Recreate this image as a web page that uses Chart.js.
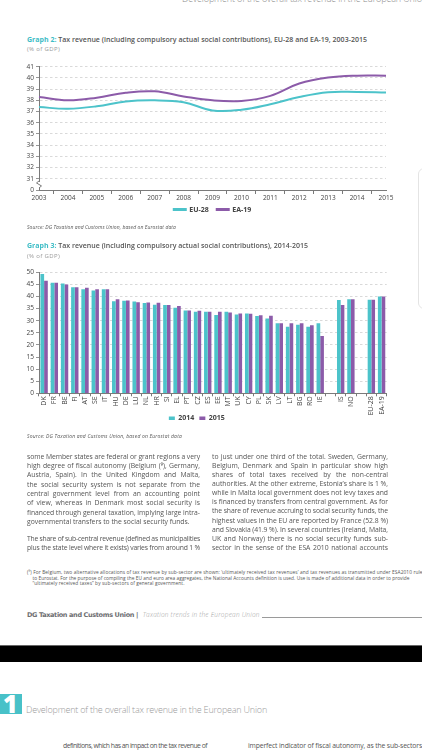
<!DOCTYPE html>
<html><head><meta charset="utf-8">
<script src="https://cdn.jsdelivr.net/npm/chart.js@4"></script>
<style>
html,body{margin:0;padding:0;background:#fff;width:422px;height:750px;overflow:hidden;position:relative;font-family:"Open Sans",sans-serif;}
.a{position:absolute;white-space:nowrap;}
.t{color:#555;font-size:7px;line-height:8px;font-weight:600;}
.t b{color:#3dbdc6;font-weight:700;}
.sub{color:#9a9a9a;font-size:6px;line-height:7px;}
.src{color:#555;font-size:5px;line-height:6px;font-style:italic;}
.bt{color:#555;font-size:6.8px;line-height:9px;}
.fn{color:#555;font-size:4.8px;line-height:6px;}
canvas{position:absolute;}
</style></head><body>
<div class="a" data-w="245" style="left:182px;top:-7px;font-size:9px;line-height:11px;color:#8a8a8a;font-weight:300;">Development of the overall tax revenue in the European Union</div>

<div class="a t" data-w="340" style="left:27px;top:36px;"><b>Graph 2:</b> Tax revenue (including compulsory actual social contributions), EU-28 and EA-19, 2003-2015</div>
<div class="a sub" data-w="33" style="left:27px;top:46px;">(% of GDP)</div>
<canvas id="c2" width="422" height="173" style="left:0;top:56px;width:422px;height:173px;"></canvas>
<div class="a src" data-w="149" style="left:27px;top:224px;">Source: DG Taxation and Customs Union, based on Eurostat data</div>

<div class="a t" data-w="281" style="left:27px;top:242px;"><b>Graph 3:</b> Tax revenue (including compulsory actual social contributions), 2014-2015</div>
<div class="a sub" data-w="33" style="left:27px;top:253px;">(% of GDP)</div>
<canvas id="c3" width="422" height="177" style="left:0;top:262px;width:422px;height:177px;"></canvas>
<div class="a src" data-w="155" style="left:27px;top:433px;">Source: DG Taxation and Customs Union, based on Eurostat data</div>

<div class="a" style="left:418px;top:168px;width:20px;height:139px;border:1px solid #e4e4e4;border-radius:6px;"></div>

<div id="body"></div>

<div class="a fn" data-w="398" style="left:27px;top:568.7px;">(⁹) For Belgium, two alternative allocations of tax revenue by sub-sector are shown: ‘ultimately received tax revenues’ and tax revenues as transmitted under ESA2010 rules</div>
<div class="a fn" data-w="377" style="left:32.5px;top:574.5px;">to Eurostat. For the purpose of compiling the EU and euro area aggregates, the National Accounts definition is used. Use is made of additional data in order to provide</div>
<div class="a fn" data-w="152" style="left:32.5px;top:580.3px;">“ultimately received taxes” by sub-sectors of general government.</div>

<div class="a" data-w="111" style="left:27px;top:611px;font-size:6.5px;line-height:8px;font-weight:700;color:#6d6e71;font-family:'DejaVu Sans',sans-serif;">DG Taxation and Customs Union |</div>
<div class="a" data-w="117" style="left:142.7px;top:611px;font-size:6.5px;line-height:8px;font-style:italic;color:#a0a0a0;font-weight:300;">Taxation trends in the European Union</div>
<div class="a" style="left:262px;top:617px;width:160px;height:0;border-top:1px solid #9a9a9a;"></div>

<div class="a" style="left:0;top:645px;width:422px;height:16px;background:#000;border-top:1px solid #666;"></div>

<div class="a" style="left:0;top:694px;width:22px;height:19.5px;background:#48c1c8;overflow:hidden;">
  <div style="position:absolute;left:3px;top:-4px;font-size:25px;line-height:26px;font-weight:800;color:#fff;">1</div>
</div>
<div class="a" data-w="241" style="left:26px;top:703.5px;font-size:9px;line-height:12px;color:#9a9a9a;font-weight:300;">Development of the overall tax revenue in the European Union</div>

<div class="a bt" data-w="144" style="left:63px;top:741px;">definitions, which has an impact on the tax revenue of</div>
<div class="a bt" data-w="174" style="left:248px;top:741px;">imperfect indicator of fiscal autonomy, as the sub-sectors</div>

<script>
// ---------- Graph 2 data ----------
const years = ['2003','2004','2005','2006','2007','2008','2009','2010','2011','2012','2013','2014','2015'];
const eu28 = [37.4, 37.25, 37.47, 37.9, 38.0, 37.83, 37.1, 37.16, 37.65, 38.3, 38.73, 38.75, 38.7];
const ea19 = [38.3, 38.0, 38.24, 38.68, 38.8, 38.35, 38.0, 37.95, 38.4, 39.5, 40.03, 40.2, 40.2];
const g2YTicks = [0, 31, 32, 33, 34, 35, 36, 37, 38, 39, 40, 41];

// ---------- Graph 3 data ----------
const countries = ['DK','FR','BE','FI','AT','SE','IT','HU','DE','LU','NL','HR','SI','EL','PT','CZ','ES','EE','MT','UK','CY','PL','SK','LV','LT','BG','RO','IE','','IS','NO','','EU-28','EA-19'];
const v2014 = [49.3,45.7,45.4,43.8,43.0,42.5,43.0,38.0,38.2,37.9,37.3,36.6,36.5,35.4,34.2,33.7,33.7,32.4,33.7,32.6,33.0,31.9,30.9,28.9,27.5,28.3,27.5,28.9,null,38.6,38.9,null,38.7,40.0];
const v2015 = [46.5,45.7,45.0,43.8,43.6,43.0,43.0,38.9,38.3,37.6,37.5,37.4,36.5,36.1,34.2,34.1,33.7,33.7,33.4,33.0,32.9,32.3,32.0,28.9,28.9,28.9,28.1,23.7,null,36.5,38.9,null,38.7,40.0];

// ---------- body text ----------
const leftLines = [
 ['some Member states are federal or grant regions a very',1],
 ['high degree of fiscal autonomy (Belgium (⁹), Germany,',1],
 ['Austria, Spain). In the United Kingdom and Malta,',1],
 ['the social security system is not separate from the',1],
 ['central government level from an accounting point',1],
 ['of view, whereas in Denmark most social security is',1],
 ['financed through general taxation, implying large intra-',1],
 ['governmental transfers to the social security funds.',0]
];
const leftLines2 = [
 ['The share of sub-central revenue (defined as municipalities',1],
 ['plus the state level where it exists) varies from around 1 %',1]
];
const rightLines = [
 'to just under one third of the total. Sweden, Germany,',
 'Belgium, Denmark and Spain in particular show high',
 'shares of total taxes received by the non-central',
 'authorities. At the other extreme, Estonia’s share is 1 %,',
 'while in Malta local government does not levy taxes and',
 'is financed by transfers from central government. As for',
 'the share of revenue accruing to social security funds, the',
 'highest values in the EU are reported by France (52.8 %)',
 'and Slovakia (41.9 %). In several countries (Ireland, Malta,',
 'UK and Norway) there is no social security funds sub-',
 'sector in the sense of the ESA 2010 national accounts'
];
const body = document.getElementById('body');
function addLine(txt, x, yc, w, just){
  const d = document.createElement('div');
  d.className = 'a bt';
  d.textContent = txt;
  d.style.left = x + 'px';
  d.style.top = (yc - 4.5) + 'px';
  body.appendChild(d);
  d.dataset.jw = w;
  d.dataset.just = just ? 1 : 0;
}
leftLines.forEach((l,i)=>addLine(l[0], 27, 456 + i*9.35, 173, l[1]));
leftLines2.forEach((l,i)=>addLine(l[0], 27, 538.5 + i*9, 173, l[1]));
rightLines.forEach((l,i)=>addLine(l, 212, 456 + i*9.15, 176, 1));

// fit widths
document.querySelectorAll('[data-w]').forEach(el=>{
  const target = +el.dataset.w;
  const w = el.getBoundingClientRect().width;
  const n = el.textContent.length;
  el.style.letterSpacing = ((target - w) / n) + 'px';
});
document.querySelectorAll('[data-jw]').forEach(el=>{
  const target = +el.dataset.jw;
  let w = el.getBoundingClientRect().width;
  const n = el.textContent.length;
  if (w > target) { el.style.letterSpacing = ((target - w) / n) + 'px'; w = el.getBoundingClientRect().width; }
  if (el.dataset.just === '1') {
    const sp = (el.textContent.match(/ /g) || []).length;
    if (sp) el.style.wordSpacing = ((target - w) / sp) + 'px';
  }
});

// ---------- charts ----------
const TEAL = '#4cc3ca', PURPLE = '#8c5ba9';
const GRID = '#cfcfcf', AXIS = '#7a7a7a';
const FONT = "'Open Sans', sans-serif";

const breakPlugin = {
  id: 'axisBreak',
  afterDraw(chart){
    const y = chart.scales.y, ctx = chart.ctx;
    const x0 = y.right;
    const yy = y.getPixelForValue(30.45);
    ctx.save();
    ctx.fillStyle = '#fff';
    ctx.fillRect(x0 - 4, yy - 3, 8, 6);
    ctx.strokeStyle = AXIS; ctx.lineWidth = 1;
    ctx.beginPath();
    ctx.moveTo(x0, yy - 4); ctx.lineTo(x0 - 2.5, yy - 2); ctx.lineTo(x0 + 2.5, yy + 1); ctx.lineTo(x0, yy + 3);
    ctx.stroke();
    ctx.restore();
  }
};
// move the legend box up a little (it sits close under the axis labels in the original)
const legendShift = (dy) => ({
  id: 'legendShift',
  afterLayout(chart){ const l = chart.legend; if (l) { l.top += dy; l.bottom += dy; } }
});

new Chart(document.getElementById('c2'), {
  type: 'line',
  data: {
    labels: years,
    datasets: [
      {label:'EU-28', data: eu28, borderColor: TEAL, backgroundColor: TEAL, borderWidth: 2, tension: 0.4, pointRadius: 0},
      {label:'EA-19', data: ea19, borderColor: PURPLE, backgroundColor: PURPLE, borderWidth: 2, tension: 0.4, pointRadius: 0}
    ]
  },
  options: {
    responsive: false, devicePixelRatio: 1, animation: false,
    layout: {padding: {top: 10.7, right: 36, bottom: 0, left: 0}},
    plugins: {
      legend: {position: 'bottom', fullSize: false,
        labels: {boxWidth: 12, boxHeight: 1, padding: 8, color: '#444', font: {family: FONT, size: 7, weight: 'bold'}}},
      tooltip: {enabled: false}
    },
    scales: {
      x: {
        grid: {drawOnChartArea: false, drawTicks: true, tickLength: 4, offset: true, tickColor: AXIS, color: AXIS},
        border: {color: AXIS, width: 1},
        ticks: {color: '#444', padding: 0, font: {family: FONT, size: 6.5}, maxRotation: 0, autoSkip: false},
        afterFit(s){ s.height = 14; }
      },
      y: {
        min: 30, max: 41,
        afterBuildTicks(s){ s.ticks = g2YTicks.map(v => ({value: v === 0 ? 30 : v})); },
        grid: {color: c => c.tick && c.tick.value === 30 ? 'rgba(0,0,0,0)' : GRID, lineWidth: 0.8, tickLength: 3, tickColor: AXIS},
        border: {color: AXIS, width: 1, dash: [2.5, 2.5]},
        ticks: {color: '#444', padding: 2, font: {family: FONT, size: 6.5},
          callback: v => v === 30 ? '0' : String(v)},
        afterFit(s){ s.width = 39; }
      }
    }
  },
  plugins: [breakPlugin, legendShift(-6)]
});

new Chart(document.getElementById('c3'), {
  type: 'bar',
  data: {
    labels: countries,
    datasets: [
      {label:'2014', data: v2014, backgroundColor: TEAL, borderWidth: 0},
      {label:'2015', data: v2015, backgroundColor: PURPLE, borderWidth: 0}
    ]
  },
  options: {
    responsive: false, devicePixelRatio: 1, animation: false,
    layout: {padding: {top: 10.3, right: 35.3, bottom: 0.7, left: 7}},
    datasets: {bar: {barPercentage: 1, categoryPercentage: 0.72}},
    plugins: {
      legend: {position: 'bottom',
        labels: {boxWidth: 6, boxHeight: 3.5, padding: 5, color: '#444', font: {family: FONT, size: 7, weight: 'bold'}}},
      tooltip: {enabled: false}
    },
    scales: {
      x: {
        grid: {drawOnChartArea: false, drawTicks: true, tickLength: 3, offset: true, tickColor: AXIS, color: AXIS},
        border: {color: AXIS, width: 1},
        ticks: {color: '#444', padding: 0, font: {family: FONT, size: 7}, minRotation: 90, maxRotation: 90, autoSkip: false},
        afterFit(s){ s.height = 23; }
      },
      y: {
        min: 0, max: 50,
        ticks: {stepSize: 5, color: '#444', padding: 2, font: {family: FONT, size: 6.5}},
        grid: {color: c => c.tick && c.tick.value === 0 ? 'rgba(0,0,0,0)' : GRID, lineWidth: 0.8, tickLength: 3, tickColor: AXIS},
        border: {color: AXIS, width: 1, dash: [2.5, 2.5]},
        afterFit(s){ s.width = 32; }
      }
    }
  },
  plugins: [legendShift(-6.5)]
});
</script>
</body></html>
